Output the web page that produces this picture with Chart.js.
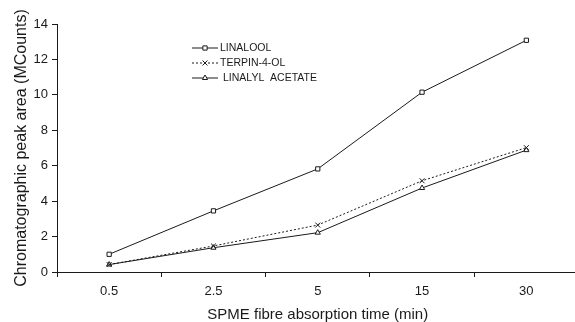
<!DOCTYPE html>
<html><head><meta charset="utf-8">
<script src="https://cdn.jsdelivr.net/npm/chart.js@4/dist/chart.umd.min.js"></script>
<style>html,body{margin:0;padding:0;background:#fff;overflow:hidden;width:575px;height:322px}#wrap{width:583px;height:322px;position:relative}</style>
</head><body><div id="wrap"><canvas id="c" width="583" height="322"></canvas></div>
<script>
const categories = ["0.5", "2.5", "5", "15", "30"];
const linalool = [1.0, 3.45, 5.82, 10.15, 13.08];
const terpin4ol = [0.42, 1.47, 2.65, 5.15, 7.02];
const linalylAcetate = [0.42, 1.37, 2.22, 4.74, 6.88];
const yTicks = [0, 2, 4, 6, 8, 10, 12, 14];
const seriesNames = ["LINALOOL", "TERPIN-4-OL", "LINALYL  ACETATE"];

const FONT = "'Liberation Sans', Arial, sans-serif";
const INK = '#1a1a1a';

const legendPlugin = {
  id: 'customLegend',
  afterDraw(chart) {
    const ctx = chart.ctx;
    const x0 = 192, x1 = 218, tx = 220;
    const ys = [48, 63, 78];
    chart.data.datasets.forEach((ds, i) => {
      const y = ys[i];
      ctx.save();
      ctx.strokeStyle = INK; ctx.lineWidth = 1;
      ctx.setLineDash(ds.borderDash || []);
      ctx.beginPath(); ctx.moveTo(x0, y); ctx.lineTo(x1, y); ctx.stroke();
      ctx.setLineDash([]);
      ctx.fillStyle = '#fff';
      ctx.strokeStyle = INK;
      Chart.helpers.drawPoint(ctx, {pointStyle: ds.pointStyle, radius: ds.pointRadius, borderWidth: 1, rotation: 0}, (x0 + x1) / 2, y);
      ctx.fillStyle = INK;
      ctx.font = "10.5px " + FONT;
      ctx.textBaseline = 'middle';
      ctx.fillText(ds.label, tx + (i === 2 ? 3 : 0), y);
      ctx.restore();
    });
  }
};

const mk = (label, data, style, dash, r) => ({
  label, data, borderColor: INK, backgroundColor: '#fff', borderWidth: 1,
  pointStyle: style, pointRadius: r, pointHoverRadius: r, pointBorderColor: INK,
  pointBackgroundColor: '#fff', pointBorderWidth: 1, borderDash: dash, tension: 0, fill: false
});

new Chart(document.getElementById('c'), {
  type: 'line',
  data: {
    labels: categories,
    datasets: [
      mk(seriesNames[0], linalool, 'rect', [], 3),
      mk(seriesNames[1], terpin4ol, 'crossRot', [2, 2], 3.5),
      mk(seriesNames[2], linalylAcetate, 'triangle', [], 3)
    ]
  },
  options: {
    responsive: false, animation: false,
    layout: {padding: {top: 24, right: 0, left: 0, bottom: 0}},
    plugins: {legend: {display: false}, tooltip: {enabled: false}},
    scales: {
      x: {
        type: 'category', offset: true,
        grid: {offset: true, drawOnChartArea: false, drawTicks: true, tickLength: 5, color: INK},
        border: {color: INK, width: 1},
        ticks: {color: INK, font: {family: FONT, size: 13}, padding: 7, maxRotation: 0},
        title: {display: true, text: 'SPME fibre absorption time (min)', color: INK, font: {family: FONT, size: 15, lineHeight: 1.0}, padding: {top: 10, bottom: 0}},
        afterFit(s) { s.height = 50; }
      },
      y: {
        min: 0, max: 14,
        afterBuildTicks(s) { s.ticks = yTicks.map(v => ({value: v})); },
        grid: {drawOnChartArea: false, drawTicks: true, tickLength: 5, color: INK},
        border: {color: INK, width: 1},
        ticks: {color: INK, font: {family: FONT, size: 13}, padding: 4},
        title: {display: true, text: 'Chromatographic peak area (MCounts)', color: INK, font: {family: FONT, size: 16}, padding: {top: 12, bottom: 4}},
        afterFit(s) { s.width = 57; }
      }
    }
  },
  plugins: [legendPlugin]
});
</script>
</body></html>
